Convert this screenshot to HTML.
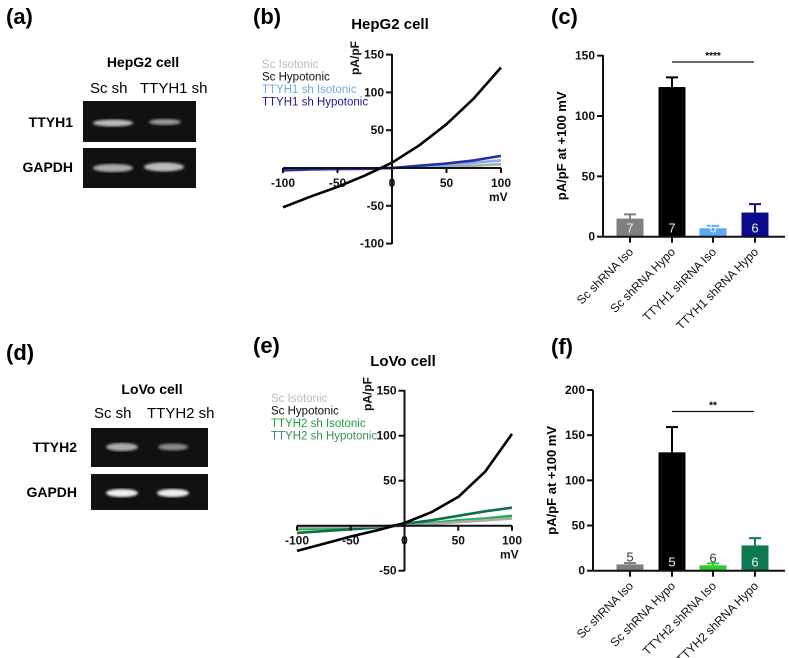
<!DOCTYPE html>
<html><head><meta charset="utf-8"><style>
body{margin:0;background:#fff}
svg{display:block;font-family:"Liberation Sans",Arial,sans-serif}
.pl{font-size:22px;font-weight:bold}
.tk{font-size:12px;font-weight:bold;fill:#111}
.lg{font-size:11.5px}
</style></head><body>
<svg id="fig" width="789" height="658" viewBox="0 0 789 658">
<defs><filter id="blur"><feGaussianBlur stdDeviation="1.2"/></filter></defs>
<g>
<text class="pl" x="6" y="24">(a)</text>
<text x="143" y="67" text-anchor="middle" font-size="14" font-weight="bold">HepG2  cell</text>
<text x="90" y="93" font-size="15">Sc sh</text>
<text x="140" y="93" font-size="15">TTYH1 sh</text>
<text x="73" y="127" text-anchor="end" font-size="14" font-weight="bold">TTYH1</text>
<text x="73" y="172" text-anchor="end" font-size="14" font-weight="bold">GAPDH</text>
<rect x="83" y="101" width="113" height="41" fill="#111"/>
<rect x="83" y="148" width="113" height="40" fill="#111"/>
<ellipse cx="113" cy="123" rx="20" ry="3.5" fill="#bbb" filter="url(#blur)"/>
<ellipse cx="165" cy="122" rx="16" ry="3" fill="#999" filter="url(#blur)"/>
<ellipse cx="113" cy="168" rx="20" ry="4" fill="#aaa" filter="url(#blur)"/>
<ellipse cx="164" cy="167" rx="20" ry="4.5" fill="#bbb" filter="url(#blur)"/>
</g>
<g>
<text class="pl" x="6" y="360">(d)</text>
<text x="152" y="394" text-anchor="middle" font-size="14" font-weight="bold">LoVo  cell</text>
<text x="94" y="418" font-size="15">Sc sh</text>
<text x="147" y="418" font-size="15">TTYH2 sh</text>
<text x="77" y="452" text-anchor="end" font-size="14" font-weight="bold">TTYH2</text>
<text x="77" y="497" text-anchor="end" font-size="14" font-weight="bold">GAPDH</text>
<rect x="91" y="428" width="117" height="39" fill="#111"/>
<rect x="91" y="474" width="117" height="36" fill="#111"/>
<ellipse cx="122" cy="447" rx="16" ry="4" fill="#aaa" filter="url(#blur)"/>
<ellipse cx="173" cy="447" rx="15" ry="3.5" fill="#888" filter="url(#blur)"/>
<ellipse cx="122" cy="493" rx="16" ry="4" fill="#eee" filter="url(#blur)"/>
<ellipse cx="173" cy="493" rx="16" ry="4" fill="#eee" filter="url(#blur)"/>
</g>
<text class="pl" x="253" y="24">(b)</text>
<text x="390" y="29" text-anchor="middle" font-size="15" font-weight="bold">HepG2 cell</text>
<text class="pl" x="253" y="353">(e)</text>
<text x="403" y="366" text-anchor="middle" font-size="15" font-weight="bold">LoVo cell</text>
<text class="pl" x="551" y="24">(c)</text>
<text class="pl" x="551" y="354">(f)</text>
<g id="gb"></g><g id="ge"></g><g id="gc"></g><g id="gf"></g>
</svg>
<script>
const NS="http://www.w3.org/2000/svg";
function mk(p,t,a,txt){const e=document.createElementNS(NS,t);for(const k in a)e.setAttribute(k,a[k]);if(txt!==undefined)e.textContent=txt;p.appendChild(e);return e;}
const voltages=[-100,-75,-50,-25,0,25,50,75,100];
const hepScIso=[-2,-1.5,-1,-0.5,0,1,2,3,5];
const hepScHypo=[-52,-38,-25,-10,7,30,58,92,133];
const hepTIso=[-2,-1.5,-1,-0.5,0,2,4,7,10];
const hepTHypo=[-3,-2,-1.5,-1,0,3,6,10,16];
const lovoScIso=[-2,-1.5,-1,-0.5,0,2,4,6,8];
const lovoScHypo=[-28,-20,-12,-5,3,15,32,60,102];
const lovoTIso=[-4,-3,-2,-1,0,3,6,8,11];
const lovoTHypo=[-8,-6,-4,-2,2,6,11,16,20];
const bTicksX=[-100,-50,0,50,100],bTicksY=[150,100,50,0,-50,-100];
const eTicksX=[-100,-50,0,50,100],eTicksY=[150,100,50,0,-50];
const barCats=["Sc shRNA Iso","Sc shRNA Hypo","TTYH1 shRNA Iso","TTYH1 shRNA Hypo"];
const cVals=[15,124,7,20],cErr=[3.5,8,2,7],cN=["7","7","6","6"];
const cTicks=[0,50,100,150];
const fCats=["Sc shRNA Iso","Sc shRNA Hypo","TTYH2 shRNA Iso","TTYH2 shRNA Hypo"];
const fVals=[7,131,6,28],fErr=[1.5,28,2,8],fN=["5","5","6","6"];
const fTicks=[0,50,100,150,200];

function iv(g,xs,ys,x0,x1,yTop,yBot,ticksX,ticksY,series,legend,lx,ly){
  const pts=(arr)=>voltages.map((v,i)=>xs(v).toFixed(1)+","+ys(arr[i]).toFixed(1)).join(" ");
  series.forEach(s=>{const l=mk(g,"polyline",{points:pts(s.d),fill:"none",stroke:s.c,"stroke-width":2.6,"stroke-linejoin":"round"});
  
  });
  const ax=mk(g,"line",{x1:x0,x2:x1,y1:ys(0),y2:ys(0),stroke:"#111","stroke-width":2});
  
  
  const ay=mk(g,"line",{x1:xs(0),x2:xs(0),y1:yTop,y2:yBot,stroke:"#111","stroke-width":2});
  
  
  ticksX.forEach(t=>{mk(g,"line",{x1:xs(t),x2:xs(t),y1:ys(0),y2:ys(0)+5,stroke:"#111","stroke-width":2});
    const tl=mk(g,"text",{x:xs(t),y:ys(0)+19,"text-anchor":"middle",class:"tk"},t);
    
    });
  ticksY.forEach(t=>{if(t===0)return;mk(g,"line",{x1:xs(0)-6,x2:xs(0),y1:ys(t),y2:ys(t),stroke:"#111","stroke-width":2});
    const tl=mk(g,"text",{x:xs(0)-8,y:ys(t)+4,"text-anchor":"end",class:"tk"},t);
    
    });
  const mv=mk(g,"text",{x:x1-12,y:ys(0)+33,class:"tk","font-size":"11"},"mV");
  
  
  const yt=mk(g,"text",{x:0,y:0,class:"tk","font-size":"11",transform:`translate(${xs(0)-33},${yTop+21}) rotate(-90)`},"pA/pF");
  
  
  legend.forEach((L,i)=>{const t=mk(g,"text",{x:lx,y:ly+i*12.5,class:"lg",fill:L.c},L.t);
    
    });
}
const bx=v=>392+v*1.09, by=v=>168-v*0.756;
iv(document.getElementById("gb"),bx,by,283,501,54,244,bTicksX,bTicksY,[
 {d:hepScIso,c:"#aaa",n:"line-sc-isotonic"},{d:hepTIso,c:"#7fb0e0",n:"line-ttyh1-isotonic"},
 {d:hepTHypo,c:"#2230a8",n:"line-ttyh1-hypotonic"},{d:hepScHypo,c:"#000",n:"line-sc-hypotonic"}],
 [{t:"Sc Isotonic",c:"#bbb"},{t:"Sc Hypotonic",c:"#111"},{t:"TTYH1 sh Isotonic",c:"#6aaee8"},{t:"TTYH1 sh Hypotonic",c:"#1c1c90"}],262,68);
const ex=v=>404.5+v*1.075, ey=v=>525.7-v*0.9;
iv(document.getElementById("ge"),ex,ey,297,512,390,571,eTicksX,eTicksY,[
 {d:lovoTIso,c:"#22b050",n:"line-ttyh2-isotonic"},{d:lovoTHypo,c:"#0e7048",n:"line-ttyh2-hypotonic"},
 {d:lovoScIso,c:"#aaa",n:"line-sc-isotonic"},{d:lovoScHypo,c:"#000",n:"line-sc-hypotonic"}],
 [{t:"Sc Isotonic",c:"#bbb"},{t:"Sc Hypotonic",c:"#111"},{t:"TTYH2 sh Isotonic",c:"#22a040"},{t:"TTYH2 sh Hypotonic",c:"#3a8a5a"}],271,402);

function bars(g,ys,axX,yTop,cats,vals,errs,ns,ticks,colors,nInside,sigY,sig){
  const centers=[630,672,713,755],bw=27;
  vals.forEach((v,i)=>{const x=centers[i]-bw/2;
    const r=mk(g,"rect",{x:x,y:ys(v),width:bw,height:ys(0)-ys(v),fill:colors[i]});
    
    
    mk(g,"line",{x1:centers[i],x2:centers[i],y1:ys(v),y2:ys(v+errs[i]),stroke:colors[i],"stroke-width":2});
    mk(g,"line",{x1:centers[i]-6,x2:centers[i]+6,y1:ys(v+errs[i]),y2:ys(v+errs[i]),stroke:colors[i],"stroke-width":2});
    const inside=nInside[i];
    const nt=mk(g,"text",{x:centers[i],y:inside?ys(0)-4:ys(v)-3,"text-anchor":"middle","font-size":"13",fill:inside?"#eee":"#333"},ns[i]);
    
    
    mk(g,"line",{x1:centers[i],x2:centers[i],y1:ys(0),y2:ys(0)+6,stroke:"#111","stroke-width":2});
    const cl=mk(g,"text",{x:0,y:0,"text-anchor":"end","font-size":"12",fill:"#111",transform:`translate(${centers[i]+4},${ys(0)+16}) rotate(-45)`},cats[i]);
    
    
  });
  const ax=mk(g,"line",{x1:axX,x2:785,y1:ys(0),y2:ys(0),stroke:"#111","stroke-width":2});
  
  
  const ay=mk(g,"line",{x1:axX,x2:axX,y1:yTop,y2:ys(0),stroke:"#111","stroke-width":2});
  
  
  ticks.forEach(t=>{mk(g,"line",{x1:axX-6,x2:axX,y1:ys(t),y2:ys(t),stroke:"#111","stroke-width":2});
    const tl=mk(g,"text",{x:axX-8,y:ys(t)+4,"text-anchor":"end",class:"tk","font-size":"13"},t);
    
    });
  const mid=(yTop+ys(0))/2;
  const yt=mk(g,"text",{x:0,y:0,"text-anchor":"middle","font-size":"13","font-weight":"bold",transform:`translate(${axX-37},${mid}) rotate(-90)`},"pA/pF  at +100 mV");
  
  
  const sl=mk(g,"line",{x1:672,x2:754,y1:sigY,y2:sigY,stroke:"#111","stroke-width":1.2});
  
  
  const st=mk(g,"text",{x:713,y:sigY-3,"text-anchor":"middle","font-size":"10","font-weight":"bold"},sig);
  
  
}
const cy=v=>236.7-v*1.207;
bars(document.getElementById("gc"),cy,603,55,barCats,cVals,cErr,cN,cTicks,["#808080","#000","#5aa8f0","#0a0a8c"],[true,true,true,true],62,"****");
const fy=v=>570.7-v*0.9035;
bars(document.getElementById("gf"),fy,593,390,fCats,fVals,fErr,fN,fTicks,["#808080","#000","#2ecc2e","#0f7a50"],[false,true,false,true],411.5,"**");
</script>
</body></html>
